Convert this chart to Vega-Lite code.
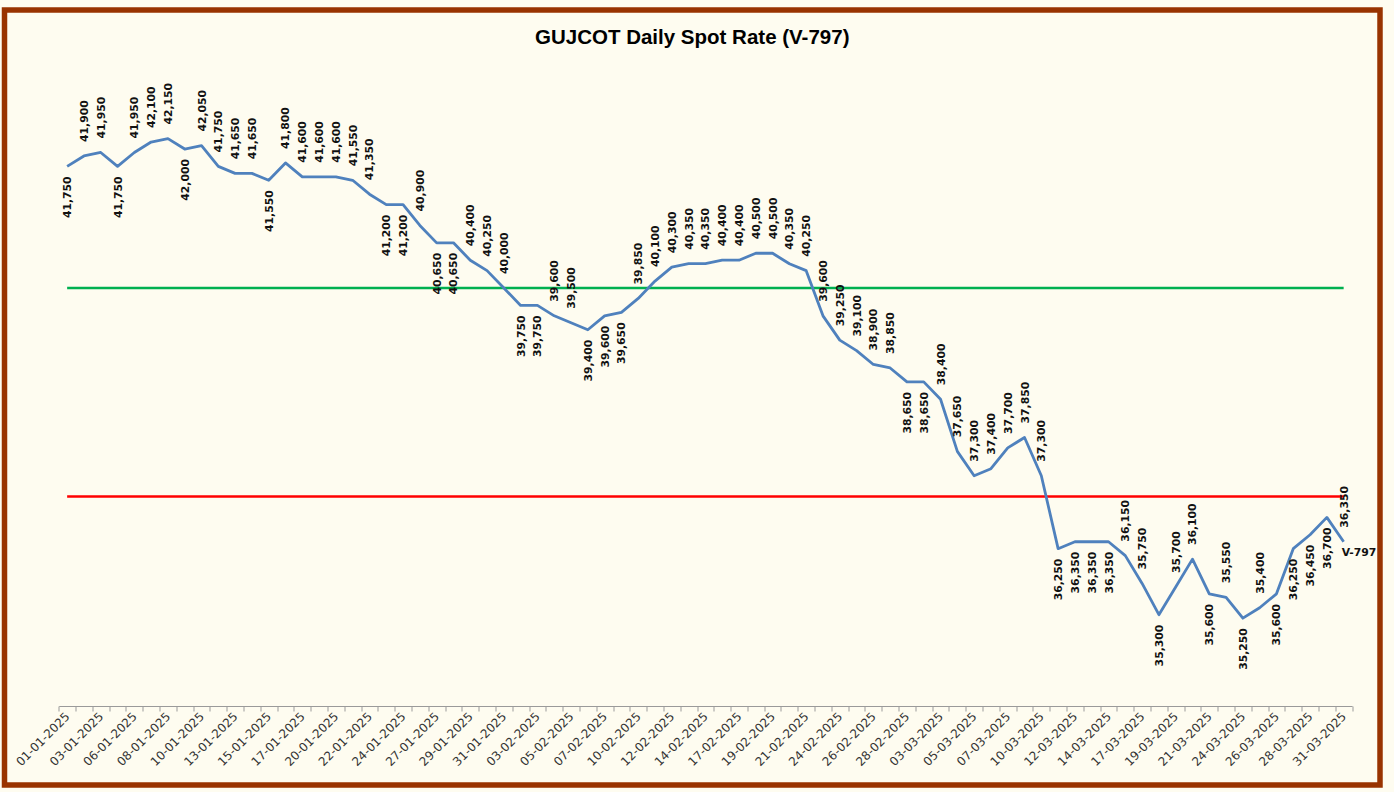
{
  "$schema": "https://vega.github.io/schema/vega-lite/v6.json",
  "width": 1375.5,
  "height": 775,
  "autosize": {"type": "none"},
  "padding": {"left": 4.5, "top": 10, "right": 14, "bottom": 7},
  "background": "#FEFCF0",
  "title": {
    "text": "GUJCOT Daily Spot Rate (V-797)",
    "font": "Liberation Sans",
    "fontSize": 20.5,
    "fontWeight": "bold",
    "color": "#000000",
    "anchor": "middle",
    "baseline": "middle",
    "offset": -48
  },
  "config": {
    "view": {"fill": "#FEFCF0", "stroke": "#993300", "strokeWidth": 5.5}
  },
  "datasets": {
    "prices": [
      {"date": "01-01-2025", "price": 41750, "label_side": "below", "series": "V-797"},
      {"date": "02-01-2025", "price": 41900, "label_side": "above", "series": "V-797"},
      {"date": "03-01-2025", "price": 41950, "label_side": "above", "series": "V-797"},
      {"date": "04-01-2025", "price": 41750, "label_side": "below", "series": "V-797"},
      {"date": "06-01-2025", "price": 41950, "label_side": "above", "series": "V-797"},
      {"date": "07-01-2025", "price": 42100, "label_side": "above", "series": "V-797"},
      {"date": "08-01-2025", "price": 42150, "label_side": "above", "series": "V-797"},
      {"date": "09-01-2025", "price": 42000, "label_side": "below", "series": "V-797"},
      {"date": "10-01-2025", "price": 42050, "label_side": "above", "series": "V-797"},
      {"date": "11-01-2025", "price": 41750, "label_side": "above", "series": "V-797"},
      {"date": "13-01-2025", "price": 41650, "label_side": "above", "series": "V-797"},
      {"date": "14-01-2025", "price": 41650, "label_side": "above", "series": "V-797"},
      {"date": "15-01-2025", "price": 41550, "label_side": "below", "series": "V-797"},
      {"date": "16-01-2025", "price": 41800, "label_side": "above", "series": "V-797"},
      {"date": "17-01-2025", "price": 41600, "label_side": "above", "series": "V-797"},
      {"date": "18-01-2025", "price": 41600, "label_side": "above", "series": "V-797"},
      {"date": "20-01-2025", "price": 41600, "label_side": "above", "series": "V-797"},
      {"date": "21-01-2025", "price": 41550, "label_side": "above", "series": "V-797"},
      {"date": "22-01-2025", "price": 41350, "label_side": "above", "series": "V-797"},
      {"date": "23-01-2025", "price": 41200, "label_side": "below", "series": "V-797"},
      {"date": "24-01-2025", "price": 41200, "label_side": "below", "series": "V-797"},
      {"date": "25-01-2025", "price": 40900, "label_side": "above", "series": "V-797"},
      {"date": "27-01-2025", "price": 40650, "label_side": "below", "series": "V-797"},
      {"date": "28-01-2025", "price": 40650, "label_side": "below", "series": "V-797"},
      {"date": "29-01-2025", "price": 40400, "label_side": "above", "series": "V-797"},
      {"date": "30-01-2025", "price": 40250, "label_side": "above", "series": "V-797"},
      {"date": "31-01-2025", "price": 40000, "label_side": "above", "series": "V-797"},
      {"date": "01-02-2025", "price": 39750, "label_side": "below", "series": "V-797"},
      {"date": "03-02-2025", "price": 39750, "label_side": "below", "series": "V-797"},
      {"date": "04-02-2025", "price": 39600, "label_side": "above", "series": "V-797"},
      {"date": "05-02-2025", "price": 39500, "label_side": "above", "series": "V-797"},
      {"date": "06-02-2025", "price": 39400, "label_side": "below", "series": "V-797"},
      {"date": "07-02-2025", "price": 39600, "label_side": "below", "series": "V-797"},
      {"date": "08-02-2025", "price": 39650, "label_side": "below", "series": "V-797"},
      {"date": "10-02-2025", "price": 39850, "label_side": "above", "series": "V-797"},
      {"date": "11-02-2025", "price": 40100, "label_side": "above", "series": "V-797"},
      {"date": "12-02-2025", "price": 40300, "label_side": "above", "series": "V-797"},
      {"date": "13-02-2025", "price": 40350, "label_side": "above", "series": "V-797"},
      {"date": "14-02-2025", "price": 40350, "label_side": "above", "series": "V-797"},
      {"date": "15-02-2025", "price": 40400, "label_side": "above", "series": "V-797"},
      {"date": "17-02-2025", "price": 40400, "label_side": "above", "series": "V-797"},
      {"date": "18-02-2025", "price": 40500, "label_side": "above", "series": "V-797"},
      {"date": "19-02-2025", "price": 40500, "label_side": "above", "series": "V-797"},
      {"date": "20-02-2025", "price": 40350, "label_side": "above", "series": "V-797"},
      {"date": "21-02-2025", "price": 40250, "label_side": "above", "series": "V-797"},
      {"date": "22-02-2025", "price": 39600, "label_side": "above", "series": "V-797"},
      {"date": "24-02-2025", "price": 39250, "label_side": "above", "series": "V-797"},
      {"date": "25-02-2025", "price": 39100, "label_side": "above", "series": "V-797"},
      {"date": "26-02-2025", "price": 38900, "label_side": "above", "series": "V-797"},
      {"date": "27-02-2025", "price": 38850, "label_side": "above", "series": "V-797"},
      {"date": "28-02-2025", "price": 38650, "label_side": "below", "series": "V-797"},
      {"date": "01-03-2025", "price": 38650, "label_side": "below", "series": "V-797"},
      {"date": "03-03-2025", "price": 38400, "label_side": "above", "series": "V-797"},
      {"date": "04-03-2025", "price": 37650, "label_side": "above", "series": "V-797"},
      {"date": "05-03-2025", "price": 37300, "label_side": "above", "series": "V-797"},
      {"date": "06-03-2025", "price": 37400, "label_side": "above", "series": "V-797"},
      {"date": "07-03-2025", "price": 37700, "label_side": "above", "series": "V-797"},
      {"date": "08-03-2025", "price": 37850, "label_side": "above", "series": "V-797"},
      {"date": "10-03-2025", "price": 37300, "label_side": "above", "series": "V-797"},
      {"date": "11-03-2025", "price": 36250, "label_side": "below", "series": "V-797"},
      {"date": "12-03-2025", "price": 36350, "label_side": "below", "series": "V-797"},
      {"date": "13-03-2025", "price": 36350, "label_side": "below", "series": "V-797"},
      {"date": "14-03-2025", "price": 36350, "label_side": "below", "series": "V-797"},
      {"date": "15-03-2025", "price": 36150, "label_side": "above", "series": "V-797"},
      {"date": "17-03-2025", "price": 35750, "label_side": "above", "series": "V-797"},
      {"date": "18-03-2025", "price": 35300, "label_side": "below", "series": "V-797"},
      {"date": "19-03-2025", "price": 35700, "label_side": "above", "series": "V-797"},
      {"date": "20-03-2025", "price": 36100, "label_side": "above", "series": "V-797"},
      {"date": "21-03-2025", "price": 35600, "label_side": "below", "series": "V-797"},
      {"date": "22-03-2025", "price": 35550, "label_side": "above", "series": "V-797"},
      {"date": "24-03-2025", "price": 35250, "label_side": "below", "series": "V-797"},
      {"date": "25-03-2025", "price": 35400, "label_side": "above", "series": "V-797"},
      {"date": "26-03-2025", "price": 35600, "label_side": "below", "series": "V-797"},
      {"date": "27-03-2025", "price": 36250, "label_side": "below", "series": "V-797"},
      {"date": "28-03-2025", "price": 36450, "label_side": "below", "series": "V-797"},
      {"date": "29-03-2025", "price": 36700, "label_side": "below", "series": "V-797"},
      {"date": "31-03-2025", "price": 36350, "label_side": "above", "series": "V-797"}
    ]
  },
  "data": {"name": "prices"},
  "encoding": {
    "x": {
      "field": "date",
      "type": "nominal",
      "scale": {
        "type": "band",
        "domain": ["01-01-2025","02-01-2025","03-01-2025","04-01-2025","06-01-2025","07-01-2025","08-01-2025","09-01-2025","10-01-2025","11-01-2025","13-01-2025","14-01-2025","15-01-2025","16-01-2025","17-01-2025","18-01-2025","20-01-2025","21-01-2025","22-01-2025","23-01-2025","24-01-2025","25-01-2025","27-01-2025","28-01-2025","29-01-2025","30-01-2025","31-01-2025","01-02-2025","03-02-2025","04-02-2025","05-02-2025","06-02-2025","07-02-2025","08-02-2025","10-02-2025","11-02-2025","12-02-2025","13-02-2025","14-02-2025","15-02-2025","17-02-2025","18-02-2025","19-02-2025","20-02-2025","21-02-2025","22-02-2025","24-02-2025","25-02-2025","26-02-2025","27-02-2025","28-02-2025","01-03-2025","03-03-2025","04-03-2025","05-03-2025","06-03-2025","07-03-2025","08-03-2025","10-03-2025","11-03-2025","12-03-2025","13-03-2025","14-03-2025","15-03-2025","17-03-2025","18-03-2025","19-03-2025","20-03-2025","21-03-2025","22-03-2025","24-03-2025","25-03-2025","26-03-2025","27-03-2025","28-03-2025","29-03-2025","31-03-2025"],
        "paddingInner": 0,
        "paddingOuter": 0,
        "range": [54.25, 1347.55]
      },
      "axis": {
        "orient": "bottom",
        "offset": -79,
        "title": null,
        "domain": true,
        "domainColor": "#9A9A9A",
        "domainWidth": 1,
        "ticks": true,
        "tickBand": "extent",
        "tickSize": 5,
        "tickColor": "#9A9A9A",
        "tickWidth": 1,
        "grid": false,
        "labelAngle": -45,
        "labelAlign": "right",
        "labelBaseline": "middle",
        "labelPadding": 3,
        "labelFont": "DejaVu Sans",
        "labelFontSize": 12,
        "labelColor": "#333333",
        "labelOverlap": false,
        "labelFlush": false,
        "labelBound": false,
        "labelExpr": "indexof(['01-01-2025','03-01-2025','06-01-2025','08-01-2025','10-01-2025','13-01-2025','15-01-2025','17-01-2025','20-01-2025','22-01-2025','24-01-2025','27-01-2025','29-01-2025','31-01-2025','03-02-2025','05-02-2025','07-02-2025','10-02-2025','12-02-2025','14-02-2025','17-02-2025','19-02-2025','21-02-2025','24-02-2025','26-02-2025','28-02-2025','03-03-2025','05-03-2025','07-03-2025','10-03-2025','12-03-2025','14-03-2025','17-03-2025','19-03-2025','21-03-2025','24-03-2025','26-03-2025','28-03-2025','31-03-2025'], datum.value) >= 0 ? datum.label : ''"
      }
    },
    "y": {
      "field": "price",
      "type": "quantitative",
      "scale": {"domain": [32850, 44000], "nice": false, "zero": false},
      "axis": null
    }
  },
  "layer": [
    {
      "mark": {"type": "line", "color": "#00B050", "strokeWidth": 2.5},
      "encoding": {"y": {"datum": 40000}}
    },
    {
      "mark": {"type": "line", "color": "#FF0000", "strokeWidth": 2.5},
      "encoding": {"y": {"datum": 37000}}
    },
    {
      "mark": {"type": "line", "color": "#4F81BD", "strokeWidth": 2.8, "strokeJoin": "round"}
    },
    {
      "transform": [{"filter": "datum.label_side === 'above'"}],
      "mark": {"type": "text", "angle": 270, "align": "left", "baseline": "middle", "dx": 14, "dy": 1, "font": "DejaVu Sans", "fontSize": 10.8, "fontWeight": "bold", "color": "#111111"},
      "encoding": {"text": {"field": "price", "type": "quantitative", "format": ",.0f"}}
    },
    {
      "transform": [{"filter": "datum.label_side === 'below'"}],
      "mark": {"type": "text", "angle": 270, "align": "right", "baseline": "middle", "dx": -10, "dy": 1, "font": "DejaVu Sans", "fontSize": 10.8, "fontWeight": "bold", "color": "#111111"},
      "encoding": {"text": {"field": "price", "type": "quantitative", "format": ",.0f"}}
    },
    {
      "transform": [{"filter": "datum.date === '31-03-2025'"}],
      "mark": {"type": "text", "align": "left", "baseline": "middle", "dx": -2, "dy": 11, "font": "DejaVu Sans", "fontSize": 10.8, "fontWeight": "bold", "color": "#111111"},
      "encoding": {"text": {"field": "series", "type": "nominal"}}
    }
  ]
}
